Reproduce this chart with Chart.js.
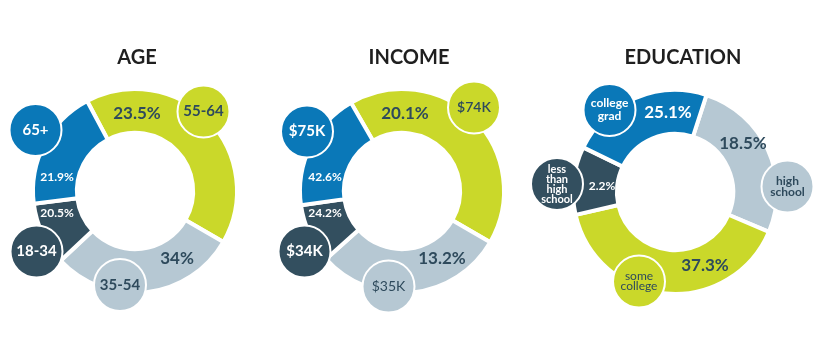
<!DOCTYPE html>
<html>
<head>
<meta charset="utf-8">
<script src="https://cdn.jsdelivr.net/npm/chart.js@4/dist/chart.umd.min.js"></script>
<style>
  html, body { margin: 0; padding: 0; background: #ffffff; }
  #wrap { position: relative; width: 828px; height: 357px; overflow: hidden; }
  #wrap canvas { position: absolute; left: 0; top: 0; }
</style>
</head>
<body>
<div id="wrap">
  <canvas id="cAge" width="828" height="357"></canvas>
  <canvas id="cIncome" width="828" height="357"></canvas>
  <canvas id="cEdu" width="828" height="357"></canvas>
</div>
<script>
// ---------- DATA ----------
const titles = ['AGE', 'INCOME', 'EDUCATION'];

// AGE (clockwise from the green segment)
const ageLabels   = ['55-64', '35-54', '18-34', '65+'];
const ageShares   = [41.1, 29.7, 10.0, 19.2];          // ring share
const agePercents = ['23.5%', '34%', '20.5%', '21.9%'];

// INCOME
const incomeLabels   = ['$74K', '$35K', '$34K', '$75K'];
const incomeShares   = [41.7, 30.0, 9.4, 18.9];
const incomePercents = ['20.1%', '13.2%', '24.2%', '42.6%'];

// EDUCATION (clockwise from the grey segment)
const eduLabels   = [['high', 'school'], ['some', 'college'], ['less', 'than', 'high', 'school'], ['college', 'grad']];
const eduShares   = [26.4, 40.0, 10.8, 22.8];
const eduPercents = ['18.5%', '37.3%', '2.2%', '25.1%'];

// ---------- STYLE ----------
const GREEN = '#cad82a', GREY = '#b6c8d3', DARK = '#334f5f', BLUE = '#0a78b8';
const TEXT_DARK = '#2e4a5c';
const FONT = 'Lato, "Open Sans", sans-serif';

const charts = [
  {
    id: 'cAge', title: titles[0], labels: ageLabels, shares: ageShares, pcts: agePercents,
    colors: [GREEN, GREY, DARK, BLUE], rotation: -28, cx: 135, cy: 191, titleDx: 2,
    bubbles: [ [0.685, -0.795], [-0.15, 0.94], [-0.985, 0.605], [-0.995, -0.61] ],
    bubbleFont: [ [15, 'bold'], [15, 'bold'], [15, 'bold'], [15, 'bold'] ],
    pctPos: [ [0.02, -0.77], [0.42, 0.68], [-0.78, 0.22], [-0.78, -0.14] ],
    pctFont: [ 17, 17, 12, 12 ]
  },
  {
    id: 'cIncome', title: titles[1], labels: incomeLabels, shares: incomeShares, pcts: incomePercents,
    colors: [GREEN, GREY, DARK, BLUE], rotation: -30, cx: 402, cy: 191, titleDx: 7,
    bubbles: [ [0.72, -0.835], [-0.135, 0.955], [-0.975, 0.605], [-0.95, -0.595] ],
    bubbleFont: [ [14, '600'], [14, 'normal'], [15, 'bold'], [15, 'bold'] ],
    pctPos: [ [0.03, -0.77], [0.40, 0.68], [-0.77, 0.22], [-0.77, -0.14] ],
    pctFont: [ 17, 17, 12, 12 ]
  },
  {
    id: 'cEdu', title: titles[2], labels: eduLabels, shares: eduShares, pcts: eduPercents,
    colors: [GREY, GREEN, DARK, BLUE], rotation: 18, cx: 675, cy: 192, titleDx: 8,
    bubbles: [ [1.125, -0.055], [-0.36, 0.895], [-1.18, -0.08], [-0.655, -0.82] ],
    bubbleFont: [ [12, 'bold', 11], [12, 'normal', 10], [11, 'bold', 10], [12, 'bold', 13] ],
    pctPos: [ [0.68, -0.48], [0.30, 0.74], [-0.73, -0.06], [-0.07, -0.79] ],
    pctFont: [ 17, 17, 12, 17 ]
  }
];

const BW = 4;           // white gap between segments
const VIS_R = 100;      // visible outer radius in px
const BUBBLE_R = 26;

const overlay = {
  id: 'overlay',
  afterDatasetsDraw(chart, args, opts) {
    const cfg = opts.cfg;
    const meta = chart.getDatasetMeta(0);
    const a0 = meta.data[0];
    const cx = a0.x, cy = a0.y;
    const s = a0.outerRadius - BW / 2; // visible radius
    const ctx = chart.ctx;
    ctx.save();
    // title
    ctx.fillStyle = '#1f1f1f';
    ctx.font = 'bold 20px ' + FONT;
    ctx.textAlign = 'center';
    ctx.textBaseline = 'middle';
    ctx.fillText(cfg.title, cx + cfg.titleDx, 58);

    // percentage labels
    cfg.pcts.forEach((p, i) => {
      const col = cfg.colors[i];
      ctx.fillStyle = (col === BLUE || col === DARK) ? '#ffffff' : TEXT_DARK;
      ctx.font = 'bold ' + cfg.pctFont[i] + 'px ' + FONT;
      ctx.fillText(p, cx + cfg.pctPos[i][0] * s, cy + cfg.pctPos[i][1] * s);
    });

    // bubbles
    cfg.labels.forEach((lab, i) => {
      const col = cfg.colors[i];
      const bx = cx + cfg.bubbles[i][0] * s, by = cy + cfg.bubbles[i][1] * s;
      ctx.beginPath();
      ctx.arc(bx, by, BUBBLE_R, 0, Math.PI * 2);
      ctx.fillStyle = col;
      ctx.fill();
      ctx.lineWidth = 2;
      ctx.strokeStyle = '#ffffff';
      ctx.stroke();
      const [fs, fw, lh] = cfg.bubbleFont[i];
      ctx.fillStyle = (col === BLUE || col === DARK) ? '#ffffff' : TEXT_DARK;
      ctx.font = fw + ' ' + fs + 'px ' + FONT;
      const lines = Array.isArray(lab) ? lab : [lab];
      const lineH = lh || fs;
      lines.forEach((ln, k) => {
        ctx.fillText(ln, bx, by + (k - (lines.length - 1) / 2) * lineH);
      });
    });
    ctx.restore();
  }
};

charts.forEach(cfg => {
  const R = VIS_R + BW / 2;
  new Chart(document.getElementById(cfg.id), {
    type: 'doughnut',
    data: {
      labels: cfg.labels,
      datasets: [{
        data: cfg.shares,
        backgroundColor: cfg.colors,
        borderColor: '#ffffff',
        borderWidth: BW
      }]
    },
    options: {
      responsive: false,
      animation: false,
      rotation: cfg.rotation,
      radius: R,
      cutout: '57%',
      layout: {
        padding: {
          left: cfg.cx - 100,
          right: 828 - (cfg.cx + 100),
          top: cfg.cy - 100,
          bottom: 357 - (cfg.cy + 100)
        }
      },
      plugins: {
        legend: { display: false },
        tooltip: { enabled: false },
        title: { display: false },
        overlay: { cfg }
      }
    },
    plugins: [overlay]
  });
});
</script>
</body>
</html>
